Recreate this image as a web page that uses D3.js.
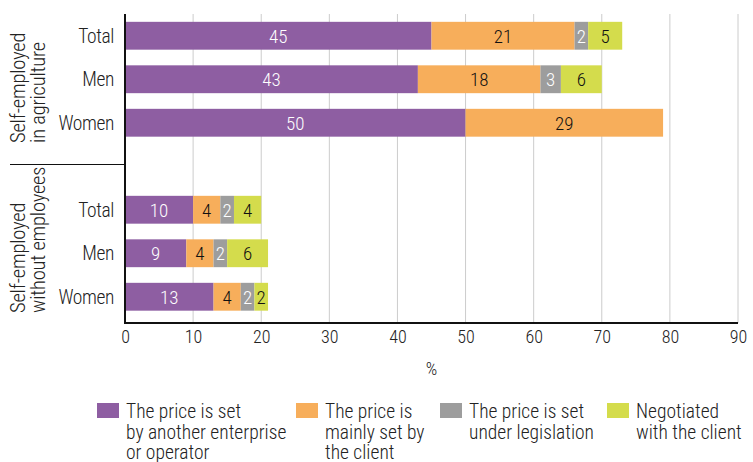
<!DOCTYPE html>
<html>
<head>
<meta charset="utf-8">
<script src="https://cdn.jsdelivr.net/npm/d3@7"></script>
<style>
  body { margin: 0; background: #fff; }
  svg text { font-family: "Roboto Condensed", "Liberation Sans", sans-serif; font-weight: 300; }
</style>
</head>
<body>
<svg id="chart" width="753" height="462"></svg>
<script>
// Rows (top to bottom); the empty row separates the two groups
const rows = ["agri-Total", "agri-Men", "agri-Women", "gap", "emp-Total", "emp-Men", "emp-Women"];
const rowLabels = ["Total", "Men", "Women", "", "Total", "Men", "Women"];
const groupNames = [["Self-employed", "in agriculture"], ["Self-employed", "without employees"]];

// Share (%) by way the price is determined
const setByOther  = [45, 43, 50, null, 10, 9, 13];
const setByClient = [21, 18, 29, null, 4, 4, 4];
const legislation = [2, 3, 0, null, 2, 2, 2];
const negotiated  = [5, 6, 0, null, 4, 6, 2];

const seriesNames = [
  ["The price is set", "by another enterprise", "or operator"],
  ["The price is", "mainly set by", "the client"],
  ["The price is set", "under legislation"],
  ["Negotiated", "with the client"]
];
const colors = ["#8e5ea2", "#f7ae5b", "#9d9d9d", "#d4dc4c"];
const labelColors = ["#ffffff", "#111111", "#ffffff", "#111111"];
const xTicks = [0, 10, 20, 30, 40, 50, 60, 70, 80, 90];

const seriesValues = [setByOther, setByClient, legislation, negotiated];

const svg = d3.select("#chart");

const x = d3.scaleLinear().domain([0, 90]).range([125, 738]);
const y = d3.scaleBand().domain(rows).range([14, 318.5]).paddingInner(0.36).paddingOuter(0.18);

// Vertical gridlines
svg.append("g").selectAll("line").data(xTicks.slice(1)).join("line")
  .attr("x1", d => x(d)).attr("x2", d => x(d))
  .attr("y1", 14).attr("y2", 323)
  .attr("stroke", "#cccccc").attr("stroke-width", 1);

// Stacked bars
const table = rows.map((r, i) => ({ row: r, values: seriesValues.map(s => s[i]) }));
const barG = svg.append("g");
table.forEach(d => {
  if (d.row === "gap") return;
  let acc = 0;
  d.values.forEach((v, k) => {
    if (!v) return;
    const x0 = acc, x1 = acc + v;
    acc = x1;
    barG.append("rect")
      .attr("x", x(x0)).attr("width", x(x1) - x(x0))
      .attr("y", y(d.row)).attr("height", y.bandwidth())
      .attr("fill", colors[k]);
    barG.append("text")
      .attr("x", (x(x0) + x(x1)) / 2)
      .attr("y", y(d.row) + y.bandwidth() / 2)
      .attr("dy", "0.36em")
      .attr("text-anchor", "middle")
      .attr("font-size", 19)
      .attr("fill", labelColors[k])
      .text(v);
  });
});

// Axis lines
svg.append("line").attr("x1", x(0)).attr("x2", x(0)).attr("y1", 14).attr("y2", 324)
  .attr("stroke", "#111").attr("stroke-width", 2);
svg.append("line").attr("x1", x(0) - 1).attr("x2", x(90)).attr("y1", 323).attr("y2", 323)
  .attr("stroke", "#111").attr("stroke-width", 2);

// X tick labels
const xAxis = d3.axisBottom(x).tickValues(xTicks).tickSize(0).tickPadding(0);
const xg = svg.append("g").attr("transform", "translate(0,343)").call(xAxis);
xg.select(".domain").remove();
xg.selectAll("text")
  .attr("font-size", 18).attr("fill", "#222")
  .attr("y", 0).attr("dy", 0)
  .style("font-family", "'Roboto Condensed', sans-serif").style("font-weight", 300);

svg.append("text").attr("x", x(45)).attr("y", 375).attr("text-anchor", "middle")
  .attr("font-size", 18).attr("fill", "#222").text("%");

// Row labels
svg.append("g").selectAll("text").data(rows).join("text")
  .attr("x", 114)
  .attr("y", d => y(d) + y.bandwidth() / 2)
  .attr("dy", "0.36em")
  .attr("text-anchor", "end")
  .attr("font-size", 19.5).attr("letter-spacing", -0.4).attr("fill", "#222")
  .text((d, i) => rowLabels[i]);

// Group separator
svg.append("line").attr("x1", 10).attr("x2", x(0)).attr("y1", 164.5).attr("y2", 164.5)
  .attr("stroke", "#111").attr("stroke-width", 1.2);

// Group labels (rotated, reading upward from the group's lower edge)
const groupBottoms = [143, 313];
groupNames.forEach((lines, g) => {
  lines.forEach((ln, j) => {
    svg.append("text")
      .attr("transform", `translate(${25 + j * 20},${groupBottoms[g]}) rotate(-90)`)
      .attr("text-anchor", "start")
      .attr("font-size", 20.5).attr("letter-spacing", -0.2).attr("fill", "#222")
      .text(ln);
  });
});

// Legend: colour swatch plus one text element per line
const legendX = [97, 296, 440, 607];
const lg = svg.append("g");
seriesNames.forEach((lines, k) => {
  lg.append("rect").attr("x", legendX[k]).attr("y", 403).attr("width", 22).attr("height", 15)
    .attr("fill", colors[k]);
  lines.forEach((ln, j) => {
    lg.append("text")
      .attr("x", legendX[k] + 29).attr("y", 418 + j * 20.5)
      .attr("font-size", 19.5).attr("fill", "#222")
      .text(ln);
  });
});
</script>
</body>
</html>
